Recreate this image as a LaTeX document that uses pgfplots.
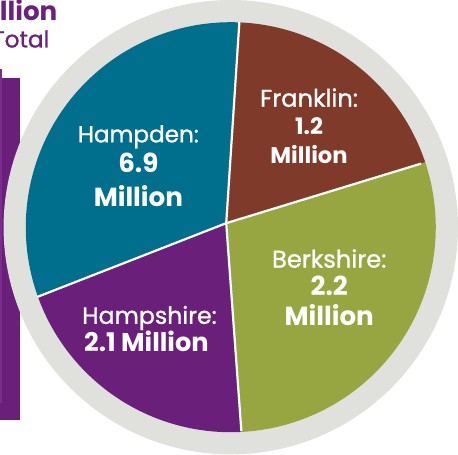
\documentclass[border=0pt]{standalone}
\usepackage{pgfplots}
\pgfplotsset{compat=1.18}
\usepackage{fontspec}
\setmainfont{Poppins}
\definecolor{hampden}{RGB}{0,110,141}
\definecolor{franklin}{RGB}{127,58,42}
\definecolor{berkshire}{RGB}{152,166,65}
\definecolor{hampshire}{RGB}{106,31,122}
\definecolor{ring}{RGB}{224,225,221}
\definecolor{ptext}{RGB}{107,32,128}
\definecolor{barlight}{RGB}{122,45,138}
\newcommand{\fs}[1]{\fontsize{#1}{#1}\selectfont}
\newcommand{\med}{\addfontfeature{FakeBold=1}}
\begin{document}
\begin{tikzpicture}
\begin{axis}[width=458bp,height=458bp,scale only axis,hide axis,
  xmin=0,xmax=458,ymin=0,ymax=458,clip=false]
% partial bar at the left edge
\addplot[fill=hampshire,draw=none] coordinates {(0,375) (20,375) (20,36) (0,36)} -- cycle;
\addplot[fill=barlight,draw=none] coordinates {(0,384) (2,384) (2,53) (0,53)} -- cycle;
% grey ring
\addplot[fill=ring,draw=none,domain=0:360,samples=180] ({228.5+225*cos(x)},{227+225*sin(x)}) -- cycle;
% slices (arc angles, vertex at (224,231))
\addplot[fill=hampden,draw=none,domain=87.6:199.8,samples=80] ({228.5+203*cos(x)},{227+203*sin(x)}) -- (224,231) -- cycle;
\addplot[fill=hampshire,draw=none,domain=199.8:273,samples=60] ({228.5+203*cos(x)},{227+203*sin(x)}) -- (224,231) -- cycle;
\addplot[fill=berkshire,draw=none,domain=273:378.5,samples=80] ({228.5+203*cos(x)},{227+203*sin(x)}) -- (224,231) -- cycle;
\addplot[fill=franklin,draw=none,domain=18.5:87.6,samples=60] ({228.5+203*cos(x)},{227+203*sin(x)}) -- (224,231) -- cycle;
% separators
\addplot[white,line width=2.2pt] coordinates {(224,231) (237,430)};
\addplot[white,line width=2.2pt] coordinates {(224,231) (417,290)};
\addplot[white,line width=2.2pt] coordinates {(224,231) (239,25)};
\addplot[white,line width=2.2pt] coordinates {(224,231) (37,158)};
% labels
\node[anchor=base,text=white,font=\fs{23}\med] at (137,311) {Hampden:};
\node[anchor=base,text=white,font=\fs{26}\bfseries] at (137,281) {6.9};
\node[anchor=base,text=white,font=\fs{26}\bfseries] at (137,247.3) {Million};
\node[anchor=base,text=white,font=\fs{24}\med] at (306,346.3) {Franklin:};
\node[anchor=base,text=white,font=\fs{22.5}\bfseries] at (306,318.7) {1.2};
\node[anchor=base,text=white,font=\fs{22.5}\bfseries] at (306,289.7) {Million};
\node[anchor=base,text=white,font=\fs{24}\med] at (326,187) {Berkshire:};
\node[anchor=base,text=white,font=\fs{26}\bfseries] at (326,159) {2.2};
\node[anchor=base,text=white,font=\fs{26}\bfseries] at (326,130) {Million};
\node[anchor=base,text=white,font=\fs{23.5}\med] at (148,131.3) {Hampshire:};
\node[anchor=base,text=white,font=\fs{25.5}\bfseries] at (145,103.7) {2.1 Million};
% cropped title at top-left
\node[overlay,anchor=base east,text=ptext,font=\fs{26}\bfseries,inner sep=0pt] at (57,432) {\$12.4 Million};
\node[overlay,anchor=base east,text=ptext,font=\fs{23}\med,inner sep=0pt] at (49,405) {Total};
\end{axis}
\end{tikzpicture}
\end{document}
